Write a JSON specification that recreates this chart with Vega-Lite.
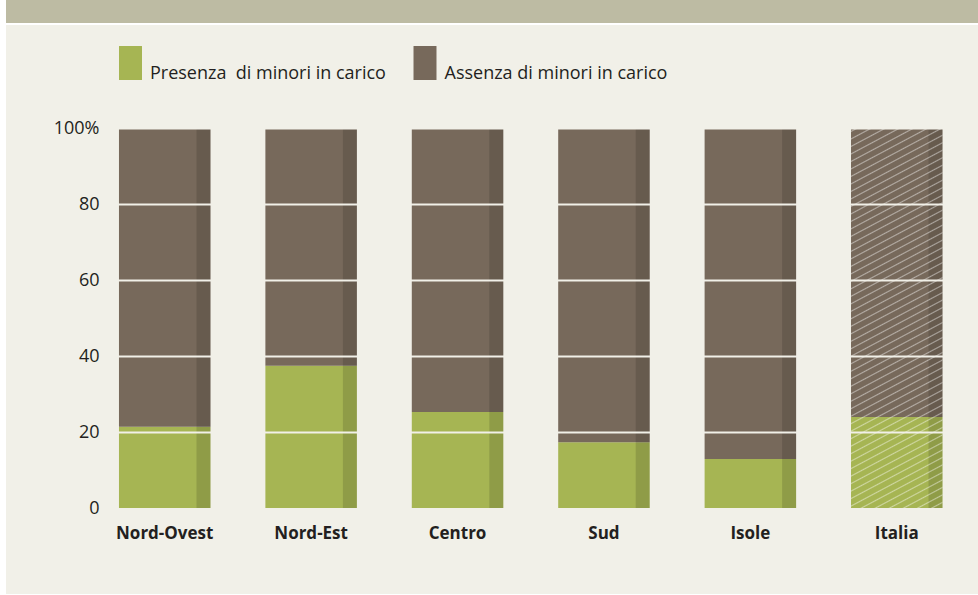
{
"$schema": "https://vega.github.io/schema/vega-lite/v6.json",
"background": "white",
"padding": {"left": 6, "top": 0, "right": 0, "bottom": 1},
"spacing": 2,
"config": {"view": {"stroke": null}, "font": "Open Sans"},
"vconcat": [
{
"width": 972, "height": 23,
"view": {"fill": "#bdbba3", "stroke": null},
"data": {"values": []},
"mark": "point"
},
{
"width": 972, "height": 569,
"view": {"fill": "#f1f0e8", "stroke": null},
"data": {"values": [
{"regione": "Nord-Ovest", "tipo": "Presenza\u00a0 di minori in carico", "valore": 21.4},
{"regione": "Nord-Ovest", "tipo": "Assenza di minori in carico", "valore": 78.6},
{"regione": "Nord-Est", "tipo": "Presenza\u00a0 di minori in carico", "valore": 37.5},
{"regione": "Nord-Est", "tipo": "Assenza di minori in carico", "valore": 62.5},
{"regione": "Centro", "tipo": "Presenza\u00a0 di minori in carico", "valore": 25.3},
{"regione": "Centro", "tipo": "Assenza di minori in carico", "valore": 74.7},
{"regione": "Sud", "tipo": "Presenza\u00a0 di minori in carico", "valore": 17.3},
{"regione": "Sud", "tipo": "Assenza di minori in carico", "valore": 82.7},
{"regione": "Isole", "tipo": "Presenza\u00a0 di minori in carico", "valore": 12.9},
{"regione": "Isole", "tipo": "Assenza di minori in carico", "valore": 87.1},
{"regione": "Italia", "tipo": "Presenza\u00a0 di minori in carico", "valore": 24.0},
{"regione": "Italia", "tipo": "Assenza di minori in carico", "valore": 76.0}
]},
"encoding": {
"x": {"field": "regione", "type": "nominal", "sort": null,
"scale": {"paddingInner": 0.375, "paddingOuter": 0.507, "align": 0.761},
"axis": {"orient": "bottom", "offset": -86, "title": null, "domain": false, "ticks": false, "labelAngle": 0, "labelPadding": 17, "labelFont": "Open Sans", "labelFontWeight": "bold", "labelFontSize": 17, "labelColor": "#231f20"}}
},
"layer": [
{
"mark": {"type": "bar"},
"encoding": {
"y": {"field": "valore", "type": "quantitative", "stack": "zero",
"scale": {"domain": [-22.66, 127.27], "nice": false, "zero": false},
"axis": {"orient": "left", "offset": -99, "title": null, "domain": false, "ticks": false, "values": [0, 20, 40, 60, 80, 100], "labelExpr": "datum.value == 100 ? '100%' : datum.label", "labelPadding": 6, "labelFont": "Open Sans", "labelFontSize": 18, "labelColor": "#231f20", "grid": true, "gridColor": "#f1f0e8", "gridWidth": 2, "gridOpacity": {"condition": {"test": "datum.value == 0", "value": 0}, "value": 1}, "zindex": 1}},
"color": {"field": "tipo", "type": "nominal",
"scale": {"domain": ["Presenza\u00a0 di minori in carico", "Assenza di minori in carico"], "range": ["#a6b553", "#77695b"]},
"legend": {"orient": "none", "legendX": 107.5, "legendY": 62, "direction": "horizontal", "title": null, "symbolType": "M-0.676,-1.94H0.676V0.06H-0.676Z", "symbolSize": 1156, "symbolStrokeWidth": 0, "symbolOpacity": 1, "labelFont": "Open Sans", "labelFontSize": 18, "labelColor": "#231f20", "labelBaseline": "alphabetic", "labelOffset": 2.5, "columnPadding": 21.5, "labelLimit": 400}},
"order": {"field": "tipo", "sort": "descending"}
}
},
{
"transform": [{"filter": "datum.tipo == 'Assenza di minori in carico'"}],
"mark": {"type": "bar", "width": 14, "xOffset": 38.75, "fill": "black", "fillOpacity": 0.135},
"encoding": {"y": {"datum": 0, "type": "quantitative"}, "y2": {"datum": 100}}
},
{
"transform": [{"filter": "datum.regione == 'Italia' && datum.tipo == 'Assenza di minori in carico'"}],
"mark": {"type": "bar", "fill": {"gradient": "linear", "x1": 0, "y1": 0, "x2": 0.1423, "y2": 1.1099, "stops": [
{"offset":0.004,"color":"rgba(255,255,255,0)"},{"offset":0.0069,"color":"rgba(255,255,255,0.45)"},{"offset":0.0098,"color":"rgba(255,255,255,0)"},
{"offset":0.0215,"color":"rgba(255,255,255,0)"},{"offset":0.0244,"color":"rgba(255,255,255,0.45)"},{"offset":0.0273,"color":"rgba(255,255,255,0)"},
{"offset":0.039,"color":"rgba(255,255,255,0)"},{"offset":0.0419,"color":"rgba(255,255,255,0.45)"},{"offset":0.0448,"color":"rgba(255,255,255,0)"},
{"offset":0.0565,"color":"rgba(255,255,255,0)"},{"offset":0.0594,"color":"rgba(255,255,255,0.45)"},{"offset":0.0623,"color":"rgba(255,255,255,0)"},
{"offset":0.074,"color":"rgba(255,255,255,0)"},{"offset":0.0769,"color":"rgba(255,255,255,0.45)"},{"offset":0.0798,"color":"rgba(255,255,255,0)"},
{"offset":0.0915,"color":"rgba(255,255,255,0)"},{"offset":0.0944,"color":"rgba(255,255,255,0.45)"},{"offset":0.0973,"color":"rgba(255,255,255,0)"},
{"offset":0.109,"color":"rgba(255,255,255,0)"},{"offset":0.1119,"color":"rgba(255,255,255,0.45)"},{"offset":0.1148,"color":"rgba(255,255,255,0)"},
{"offset":0.1265,"color":"rgba(255,255,255,0)"},{"offset":0.1294,"color":"rgba(255,255,255,0.45)"},{"offset":0.1323,"color":"rgba(255,255,255,0)"},
{"offset":0.144,"color":"rgba(255,255,255,0)"},{"offset":0.1469,"color":"rgba(255,255,255,0.45)"},{"offset":0.1498,"color":"rgba(255,255,255,0)"},
{"offset":0.1615,"color":"rgba(255,255,255,0)"},{"offset":0.1644,"color":"rgba(255,255,255,0.45)"},{"offset":0.1673,"color":"rgba(255,255,255,0)"},
{"offset":0.179,"color":"rgba(255,255,255,0)"},{"offset":0.1819,"color":"rgba(255,255,255,0.45)"},{"offset":0.1848,"color":"rgba(255,255,255,0)"},
{"offset":0.1965,"color":"rgba(255,255,255,0)"},{"offset":0.1994,"color":"rgba(255,255,255,0.45)"},{"offset":0.2023,"color":"rgba(255,255,255,0)"},
{"offset":0.214,"color":"rgba(255,255,255,0)"},{"offset":0.2169,"color":"rgba(255,255,255,0.45)"},{"offset":0.2198,"color":"rgba(255,255,255,0)"},
{"offset":0.2315,"color":"rgba(255,255,255,0)"},{"offset":0.2344,"color":"rgba(255,255,255,0.45)"},{"offset":0.2373,"color":"rgba(255,255,255,0)"},
{"offset":0.249,"color":"rgba(255,255,255,0)"},{"offset":0.2519,"color":"rgba(255,255,255,0.45)"},{"offset":0.2548,"color":"rgba(255,255,255,0)"},
{"offset":0.2665,"color":"rgba(255,255,255,0)"},{"offset":0.2694,"color":"rgba(255,255,255,0.45)"},{"offset":0.2723,"color":"rgba(255,255,255,0)"},
{"offset":0.284,"color":"rgba(255,255,255,0)"},{"offset":0.2869,"color":"rgba(255,255,255,0.45)"},{"offset":0.2898,"color":"rgba(255,255,255,0)"},
{"offset":0.3015,"color":"rgba(255,255,255,0)"},{"offset":0.3044,"color":"rgba(255,255,255,0.45)"},{"offset":0.3073,"color":"rgba(255,255,255,0)"},
{"offset":0.319,"color":"rgba(255,255,255,0)"},{"offset":0.3219,"color":"rgba(255,255,255,0.45)"},{"offset":0.3248,"color":"rgba(255,255,255,0)"},
{"offset":0.3365,"color":"rgba(255,255,255,0)"},{"offset":0.3394,"color":"rgba(255,255,255,0.45)"},{"offset":0.3423,"color":"rgba(255,255,255,0)"},
{"offset":0.354,"color":"rgba(255,255,255,0)"},{"offset":0.3569,"color":"rgba(255,255,255,0.45)"},{"offset":0.3598,"color":"rgba(255,255,255,0)"},
{"offset":0.3715,"color":"rgba(255,255,255,0)"},{"offset":0.3744,"color":"rgba(255,255,255,0.45)"},{"offset":0.3773,"color":"rgba(255,255,255,0)"},
{"offset":0.389,"color":"rgba(255,255,255,0)"},{"offset":0.3919,"color":"rgba(255,255,255,0.45)"},{"offset":0.3948,"color":"rgba(255,255,255,0)"},
{"offset":0.4065,"color":"rgba(255,255,255,0)"},{"offset":0.4094,"color":"rgba(255,255,255,0.45)"},{"offset":0.4123,"color":"rgba(255,255,255,0)"},
{"offset":0.424,"color":"rgba(255,255,255,0)"},{"offset":0.4269,"color":"rgba(255,255,255,0.45)"},{"offset":0.4298,"color":"rgba(255,255,255,0)"},
{"offset":0.4415,"color":"rgba(255,255,255,0)"},{"offset":0.4444,"color":"rgba(255,255,255,0.45)"},{"offset":0.4473,"color":"rgba(255,255,255,0)"},
{"offset":0.459,"color":"rgba(255,255,255,0)"},{"offset":0.4619,"color":"rgba(255,255,255,0.45)"},{"offset":0.4648,"color":"rgba(255,255,255,0)"},
{"offset":0.4765,"color":"rgba(255,255,255,0)"},{"offset":0.4794,"color":"rgba(255,255,255,0.45)"},{"offset":0.4823,"color":"rgba(255,255,255,0)"},
{"offset":0.494,"color":"rgba(255,255,255,0)"},{"offset":0.4969,"color":"rgba(255,255,255,0.45)"},{"offset":0.4998,"color":"rgba(255,255,255,0)"},
{"offset":0.5115,"color":"rgba(255,255,255,0)"},{"offset":0.5144,"color":"rgba(255,255,255,0.45)"},{"offset":0.5173,"color":"rgba(255,255,255,0)"},
{"offset":0.529,"color":"rgba(255,255,255,0)"},{"offset":0.5319,"color":"rgba(255,255,255,0.45)"},{"offset":0.5348,"color":"rgba(255,255,255,0)"},
{"offset":0.5465,"color":"rgba(255,255,255,0)"},{"offset":0.5494,"color":"rgba(255,255,255,0.45)"},{"offset":0.5523,"color":"rgba(255,255,255,0)"},
{"offset":0.564,"color":"rgba(255,255,255,0)"},{"offset":0.5669,"color":"rgba(255,255,255,0.45)"},{"offset":0.5698,"color":"rgba(255,255,255,0)"},
{"offset":0.5815,"color":"rgba(255,255,255,0)"},{"offset":0.5844,"color":"rgba(255,255,255,0.45)"},{"offset":0.5873,"color":"rgba(255,255,255,0)"},
{"offset":0.599,"color":"rgba(255,255,255,0)"},{"offset":0.6019,"color":"rgba(255,255,255,0.45)"},{"offset":0.6048,"color":"rgba(255,255,255,0)"},
{"offset":0.6165,"color":"rgba(255,255,255,0)"},{"offset":0.6194,"color":"rgba(255,255,255,0.45)"},{"offset":0.6223,"color":"rgba(255,255,255,0)"},
{"offset":0.634,"color":"rgba(255,255,255,0)"},{"offset":0.6369,"color":"rgba(255,255,255,0.45)"},{"offset":0.6398,"color":"rgba(255,255,255,0)"},
{"offset":0.6515,"color":"rgba(255,255,255,0)"},{"offset":0.6544,"color":"rgba(255,255,255,0.45)"},{"offset":0.6573,"color":"rgba(255,255,255,0)"},
{"offset":0.669,"color":"rgba(255,255,255,0)"},{"offset":0.6719,"color":"rgba(255,255,255,0.45)"},{"offset":0.6748,"color":"rgba(255,255,255,0)"},
{"offset":0.6865,"color":"rgba(255,255,255,0)"},{"offset":0.6894,"color":"rgba(255,255,255,0.45)"},{"offset":0.6923,"color":"rgba(255,255,255,0)"},
{"offset":0.704,"color":"rgba(255,255,255,0)"},{"offset":0.7069,"color":"rgba(255,255,255,0.45)"},{"offset":0.7098,"color":"rgba(255,255,255,0)"},
{"offset":0.7215,"color":"rgba(255,255,255,0)"},{"offset":0.7244,"color":"rgba(255,255,255,0.45)"},{"offset":0.7273,"color":"rgba(255,255,255,0)"},
{"offset":0.739,"color":"rgba(255,255,255,0)"},{"offset":0.7419,"color":"rgba(255,255,255,0.45)"},{"offset":0.7448,"color":"rgba(255,255,255,0)"},
{"offset":0.7565,"color":"rgba(255,255,255,0)"},{"offset":0.7594,"color":"rgba(255,255,255,0.45)"},{"offset":0.7623,"color":"rgba(255,255,255,0)"},
{"offset":0.774,"color":"rgba(255,255,255,0)"},{"offset":0.7769,"color":"rgba(255,255,255,0.45)"},{"offset":0.7798,"color":"rgba(255,255,255,0)"},
{"offset":0.7915,"color":"rgba(255,255,255,0)"},{"offset":0.7944,"color":"rgba(255,255,255,0.45)"},{"offset":0.7973,"color":"rgba(255,255,255,0)"},
{"offset":0.809,"color":"rgba(255,255,255,0)"},{"offset":0.8119,"color":"rgba(255,255,255,0.45)"},{"offset":0.8148,"color":"rgba(255,255,255,0)"},
{"offset":0.8265,"color":"rgba(255,255,255,0)"},{"offset":0.8294,"color":"rgba(255,255,255,0.45)"},{"offset":0.8323,"color":"rgba(255,255,255,0)"},
{"offset":0.844,"color":"rgba(255,255,255,0)"},{"offset":0.8469,"color":"rgba(255,255,255,0.45)"},{"offset":0.8498,"color":"rgba(255,255,255,0)"},
{"offset":0.8615,"color":"rgba(255,255,255,0)"},{"offset":0.8644,"color":"rgba(255,255,255,0.45)"},{"offset":0.8673,"color":"rgba(255,255,255,0)"},
{"offset":0.879,"color":"rgba(255,255,255,0)"},{"offset":0.8819,"color":"rgba(255,255,255,0.45)"},{"offset":0.8848,"color":"rgba(255,255,255,0)"},
{"offset":0.8965,"color":"rgba(255,255,255,0)"},{"offset":0.8994,"color":"rgba(255,255,255,0.45)"},{"offset":0.9023,"color":"rgba(255,255,255,0)"},
{"offset":0.914,"color":"rgba(255,255,255,0)"},{"offset":0.9169,"color":"rgba(255,255,255,0.45)"},{"offset":0.9198,"color":"rgba(255,255,255,0)"},
{"offset":0.9315,"color":"rgba(255,255,255,0)"},{"offset":0.9344,"color":"rgba(255,255,255,0.45)"},{"offset":0.9373,"color":"rgba(255,255,255,0)"},
{"offset":0.949,"color":"rgba(255,255,255,0)"},{"offset":0.9519,"color":"rgba(255,255,255,0.45)"},{"offset":0.9548,"color":"rgba(255,255,255,0)"},
{"offset":0.9665,"color":"rgba(255,255,255,0)"},{"offset":0.9694,"color":"rgba(255,255,255,0.45)"},{"offset":0.9723,"color":"rgba(255,255,255,0)"},
{"offset":0.984,"color":"rgba(255,255,255,0)"},{"offset":0.9869,"color":"rgba(255,255,255,0.45)"},{"offset":0.9898,"color":"rgba(255,255,255,0)"}
]}},
"encoding": {"y": {"datum": 0, "type": "quantitative"}, "y2": {"datum": 100}}
}
]
}
]
}
